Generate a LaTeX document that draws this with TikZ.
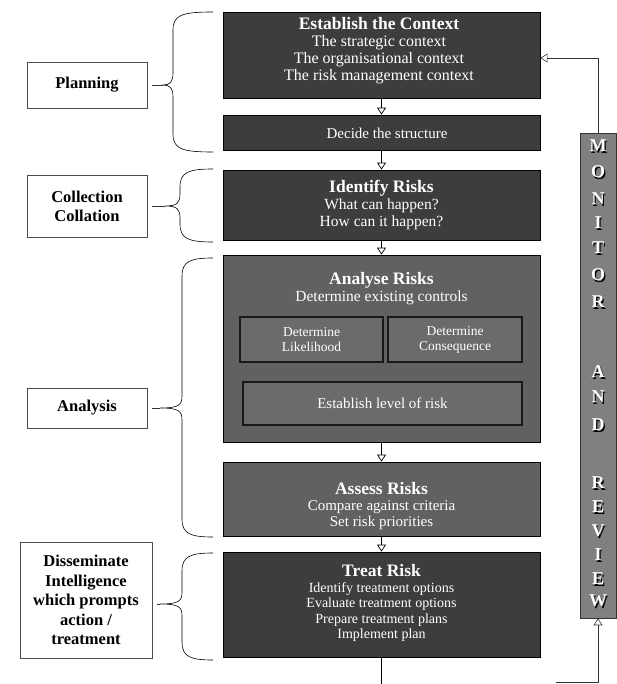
\documentclass[tikz,border=0pt]{standalone}
\usepackage{fontspec}
\setmainfont{Liberation Serif}
\usetikzlibrary{arrows.meta,calc}
\newcommand\drawbrace[6]{%
  \draw[bracestyle] (#6,#2) .. controls ({#1+9},#2) and (#1,{#2+3}) .. (#1,{#2+18})
   -- (#1,{#3-12}) .. controls (#1,{#3-3}) and ({#1-3},#3) .. (#5,#3)
   .. controls ({#1-3},#3) and (#1,{#3+3}) .. (#1,{#3+12})
   -- (#1,{#4-18}) .. controls (#1,{#4-3}) and ({#1+9},#4) .. (#6,#4);}
\newcommand\ttlf{\bfseries\fontsize{17.5}{17.5}\selectfont}
\tikzset{
  dbox/.style={draw=black, fill=black!76, line width=0.8pt, inner sep=0pt},
  mbox/.style={draw=black, fill=black!62, line width=0.8pt, inner sep=0pt},
  ibox/.style={draw=black!90, fill=black!58, line width=1.4pt, inner sep=0pt},
  colbox/.style={draw=black!80, fill=black!50, line width=0.6pt, inner sep=0pt},
  lbox/.style={draw=black!70, line width=0.5pt, inner sep=0pt, align=center,
    font=\bfseries\fontsize{16.5}{19.5}\selectfont},
  wtxt/.style={text=white, align=center, inner sep=0pt, font=\fontsize{16}{17}\selectfont},
  mlet/.style={text=white, inner sep=0pt, font=\bfseries\fontsize{18}{18}\selectfont},
  mshadow/.style={text=black, inner sep=0pt, font=\bfseries\fontsize{18}{18}\selectfont},
  flow/.style={line width=0.7pt, -{Triangle[open,length=7pt,width=9pt]}},
  thinline/.style={line width=0.6pt, black!80},
  bracestyle/.style={line width=0.6pt, black},
}
\begin{document}
\begin{tikzpicture}[x=1pt,y=-1pt]
\useasboundingbox (0,0) rectangle (617,684);
% main column
\node[dbox, minimum width=317pt, minimum height=86pt] (ctx) at (381.5,55) {};
\node[wtxt] (ctxt) at (379,51) {{\ttlf Establish the Context}\\The strategic context\\The organisational context\\The risk management context};
\node[dbox, minimum width=317pt, minimum height=35pt] (dec) at (381.5,132.5) {};
\node[wtxt, font=\fontsize{15}{16}\selectfont] (dect) at (387,133) {Decide the structure};
\node[dbox, minimum width=317pt, minimum height=70pt] (idn) at (381.5,205) {};
\node[wtxt, font=\fontsize{15.5}{17}\selectfont] (idnt) at (381.5,205) {{\ttlf Identify Risks}\\What can happen?\\How can it happen?};
\node[mbox, minimum width=317pt, minimum height=187pt] (ana) at (381.5,348.5) {};
\node[wtxt, font=\fontsize{15.5}{17}\selectfont] (anat) at (381.5,289) {{\ttlf Analyse Risks}\\Determine existing controls};
\node[ibox, minimum width=143pt, minimum height=45pt, wtxt, font=\fontsize{13.5}{15}\selectfont] (lik) at (311.5,339.5) {Determine\\Likelihood};
\node[ibox, minimum width=134pt, minimum height=45pt, wtxt, font=\fontsize{13.5}{15}\selectfont] (con) at (455,339.5) {Determine\\Consequence};
\node[ibox, minimum width=279pt, minimum height=43pt, wtxt, font=\fontsize{15}{16}\selectfont] (lev) at (382.5,403.5) {Establish level of risk};
\node[mbox, minimum width=317pt, minimum height=74pt] (ass) at (381.5,499) {};
\node[wtxt, font=\fontsize{15}{16}\selectfont] (asst) at (381.5,506) {{\ttlf Assess Risks}\\Compare against criteria\\Set risk priorities};
\node[dbox, minimum width=317pt, minimum height=105pt] (trt) at (381.5,604.5) {};
\node[wtxt, font=\fontsize{14}{15.5}\selectfont] (trtt) at (381.5,603) {{\ttlf Treat Risk}\\Identify treatment options\\Evaluate treatment options\\Prepare treatment plans\\Implement plan};
% flow arrows
\draw[flow] (ctx.south) -- (dec.north);
\draw[flow] (dec.south) -- (idn.north);
\draw[flow] (idn.south) -- (ana.north);
\draw[flow] (ana.south) -- (ass.north);
\draw[flow] (ass.south) -- (trt.north);
\coordinate (bot) at (381.5,690);
\draw[line width=0.8pt] (trt.south) -- (bot);
% monitor and review
\node[colbox, minimum width=36pt, minimum height=485pt] (mon) at (598,375.5) {};
\foreach \l/\y [count=\i] in {M/146,O/172,N/199,I/223,T/248,O/275,R/302,A/372,N/397,D/425,R/483,E/507,V/531,I/555,E/579,W/601}{
  \node[mshadow] (ms\i) at (599.4,\y+1.3) {\l};
  \node[mlet] (ml\i) at (598.2,\y) {\l};
}
\draw[flow, thinline] (mon.north) |- ([yshift=-3pt]ctx.east);
\coordinate (ret) at (556,682);
\draw[flow, thinline] (ret) -| (mon.south);
% left labels
\node[lbox, minimum width=120pt, minimum height=46pt] (plan) at (87,85) {Planning};
\node[lbox, minimum width=120pt, minimum height=62pt] (coll) at (87,206.5) {Collection\\Collation};
\node[lbox, minimum width=120pt, minimum height=40pt] (anl) at (87,408) {Analysis};
\node[lbox, minimum width=132pt, minimum height=116pt] (dis) at (86,600) {Disseminate\\Intelligence\\which prompts\\action /\\treatment};
% braces
\drawbrace{173}{12}{85}{152}{163}{213}
\drawbrace{180}{169}{206}{242}{165}{213}
\drawbrace{182}{258}{408}{537}{160}{213}
\drawbrace{182}{553}{604}{660}{160}{213}
\coordinate (ptip) at (163,85);
\coordinate (ctip) at (165,206);
\coordinate (atip) at (160,408);
\coordinate (dtip) at (160,604);
\draw[thinline, shorten >=5pt] (ptip) -- (ptip -| plan.east);
\draw[thinline, shorten >=5pt] (ctip) -- (ctip -| coll.east);
\draw[thinline, shorten >=5pt] (atip) -- (atip -| anl.east);
\draw[thinline, shorten >=5pt] (dtip) -- (dtip -| dis.east);
\end{tikzpicture}
\end{document}
